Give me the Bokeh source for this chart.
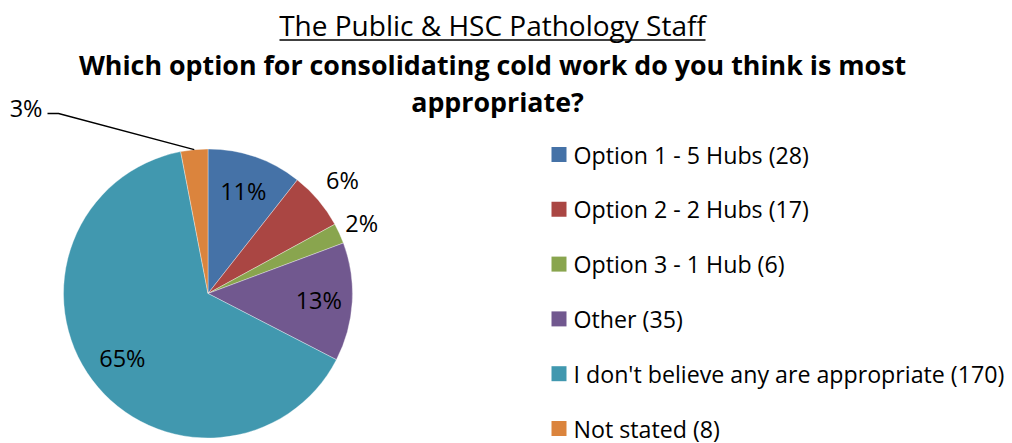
import math
from bokeh.plotting import figure
from bokeh.models import Range1d, ColumnDataSource
from bokeh.core.properties import value
from bokeh.embed import file_html
from bokeh.resources import INLINE

# Survey responses
categories = [
    "Option 1 - 5 Hubs",
    "Option 2 - 2 Hubs",
    "Option 3 - 1 Hub",
    "Other",
    "I don't believe any are appropriate",
    "Not stated",
]
counts = [28, 17, 6, 35, 170, 8]
pct_labels = ["11%", "6%", "2%", "13%", "65%", "3%"]
colors = ["#4572A7", "#AA4643", "#89A54E", "#71588F", "#4198AF", "#DB843D"]

title_line = "The Public & HSC Pathology Staff"
question_lines = ["Which option for consolidating cold work do you think is most",
                  "appropriate?"]

W, H = 1012, 443
FONT = "Open Sans"

p = figure(width=W, height=H, output_backend="svg", toolbar_location=None,
           x_range=Range1d(0, W), y_range=Range1d(H, 0),
           min_border=0, outline_line_color=None)
p.axis.visible = False
p.grid.visible = False
p.background_fill_color = "white"
p.border_fill_color = "white"

# pie geometry (screen units, y grows downward)
cx, cy, r = 207.5, 293.0, 144.5
total = sum(counts)
starts, ends = [], []
acc = 0.0
for c in counts:
    # clockwise from 12 o'clock in screen space
    a0 = -math.pi / 2 + 2 * math.pi * acc / total
    acc += c
    a1 = -math.pi / 2 + 2 * math.pi * acc / total
    starts.append(a0)
    ends.append(a1)

# wedge angles are measured with y pointing up, so negate the screen angles
src = ColumnDataSource(dict(x=[cx] * len(counts), y=[cy] * len(counts),
                            start=[-a for a in starts], end=[-a for a in ends],
                            color=colors))
p.wedge(x="x", y="y", radius=r, start_angle="start", end_angle="end",
        direction="clock", fill_color="color", line_color="white",
        line_width=0.5, line_alpha=0.7, source=src)

# percentage labels placed along each slice's mid angle
label_radius = [108, 176, 169, 111, 107]
lx, ly, lt = [], [], []
for i, rad in enumerate(label_radius):
    mid = (starts[i] + ends[i]) / 2
    lx.append(cx + rad * math.cos(mid))
    ly.append(cy + rad * math.sin(mid))
    lt.append(pct_labels[i])
p.text(x=lx, y=ly, text=lt, text_align="center", text_baseline="middle",
       text_font=value(FONT), text_font_size="23.5px", text_color="black")

# callout for the small "Not stated" slice
mid_ns = (starts[5] + ends[5]) / 2
ex, ey = cx + r * math.cos(mid_ns), cy + r * math.sin(mid_ns)
p.line(x=[47, 58, ex], y=[113, 113, ey], line_color="black", line_width=1.3)
p.text(x=[42], y=[107], text=[pct_labels[5]], text_align="right",
       text_baseline="middle", text_font=value(FONT), text_font_size="23.5px",
       text_color="black")

# titles
p.text(x=[492], y=[24], text=[title_line], text_align="center",
       text_baseline="middle", text_font=value(FONT), text_font_size="28px",
       text_color="black")
p.line(x=[279, 705], y=[39.5, 39.5], line_color="black", line_width=1.5)
p.text(x=[492, 497], y=[64, 101], text=question_lines, text_align="center",
       text_baseline="middle", text_font=value(FONT), text_font_size="26.8px",
       text_font_style="bold", text_color="black")

# legend
leg_y = [154 + 54.8 * i for i in range(len(categories))]
leg_text = [f"{c} ({n})" for c, n in zip(categories, counts)]
p.rect(x=[558.5] * len(categories), y=leg_y, width=15, height=15,
       fill_color=colors, line_color=None)
p.text(x=[573] * len(categories), y=leg_y, text=leg_text,
       text_align="left", text_baseline="middle", text_font=value(FONT),
       text_font_size="23.2px", text_color="black")

open("out.html", "w").write(file_html(p, INLINE))
